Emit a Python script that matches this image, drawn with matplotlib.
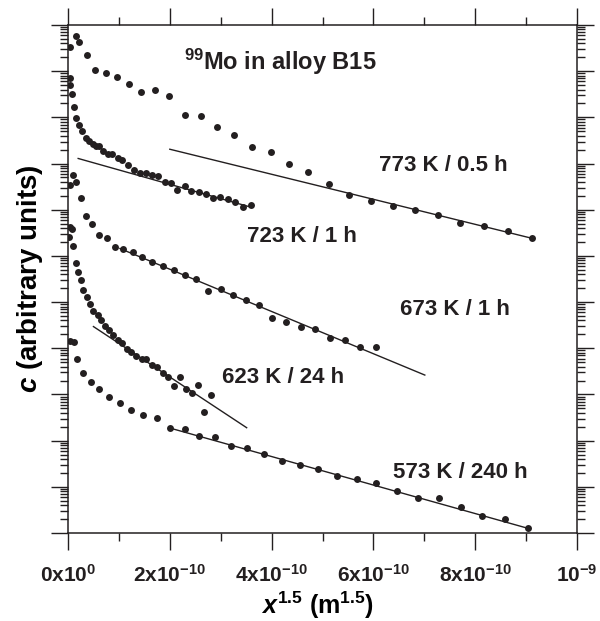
"""99Mo diffusion profiles in alloy B15"""

import matplotlib
matplotlib.use('Agg')
import matplotlib.pyplot as plt
import numpy as np
from matplotlib.ticker import FixedLocator, FixedFormatter, LogLocator, NullFormatter

INK = '#231f20'

# x^1.5 in units of 1e-10 m^1.5, c as log10 of arbitrary units
x_773 = [0.04, 0.15, 0.22, 0.37, 0.54, 0.74, 0.96, 1.19, 1.44, 1.71, 1.99, 2.29, 2.61,
         2.93, 3.26, 3.61, 3.98, 4.35, 4.72, 5.13, 5.53, 5.95, 6.38, 6.81, 7.26, 7.71,
         8.17, 8.64, 9.12]
lg_773 = [10.52, 10.77, 10.64, 10.34, 10.03, 9.96, 9.87, 9.73, 9.56, 9.60, 9.46, 9.05, 9.02,
          8.79, 8.61, 8.35, 8.24, 7.99, 7.82, 7.56, 7.31, 7.19, 7.09, 6.99, 6.89, 6.71,
          6.65, 6.54, 6.38]
fit_x_773 = [2.00, 9.12]
fit_lg_773 = [8.31, 6.38]

x_723 = [0.04, 0.03, 0.07, 0.12, 0.16, 0.22, 0.28, 0.35, 0.42, 0.49, 0.55, 0.60, 0.69,
         0.78, 0.87, 0.98, 1.07, 1.18, 1.30, 1.41, 1.53, 1.65, 1.76, 1.90, 2.02, 2.15,
         2.29, 2.42, 2.57, 2.71, 2.84, 2.99, 3.14, 3.29, 3.44, 3.60]
lg_723 = [9.86, 9.70, 9.51, 9.22, 8.99, 8.83, 8.70, 8.55, 8.49, 8.42, 8.38, 8.38, 8.27,
          8.20, 8.21, 8.13, 8.07, 7.97, 7.87, 7.79, 7.80, 7.75, 7.72, 7.61, 7.57, 7.43,
          7.52, 7.41, 7.38, 7.35, 7.25, 7.28, 7.23, 7.17, 7.05, 7.10]
fit_x_723 = [0.20, 3.58]
fit_lg_723 = [8.11, 7.06]

x_673 = [0.10, 0.15, 0.03, 0.25, 0.35, 0.48, 0.61, 0.77, 0.92, 1.09, 1.27, 1.46, 1.66,
         1.87, 2.08, 2.30, 2.51, 2.75, 3.00, 3.24, 3.49, 3.75, 4.01, 4.29, 4.57, 4.85,
         5.15, 5.44, 5.74, 6.05]
lg_673 = [7.75, 7.59, 7.54, 7.26, 6.87, 6.69, 6.46, 6.39, 6.20, 6.16, 6.08, 5.98, 5.87,
          5.78, 5.69, 5.59, 5.49, 5.25, 5.29, 5.15, 5.05, 4.94, 4.66, 4.56, 4.45, 4.41,
          4.22, 4.17, 4.03, 4.03]
fit_x_673 = [1.02, 7.01]
fit_lg_673 = [6.16, 3.42]

x_623 = [0.04, 0.07, 0.01, 0.10, 0.15, 0.20, 0.25, 0.30, 0.37, 0.43, 0.50, 0.58, 0.65,
         0.73, 0.81, 0.89, 0.98, 1.07, 1.15, 1.24, 1.34, 1.45, 1.54, 1.65, 1.75, 1.87,
         1.97, 2.08, 2.20, 2.31, 2.43, 2.55, 2.67, 2.80]
lg_623 = [6.63, 6.58, 6.40, 6.22, 5.84, 5.65, 5.48, 5.26, 5.10, 4.95, 4.81, 4.71, 4.61,
          4.49, 4.40, 4.29, 4.18, 4.11, 3.99, 3.91, 3.83, 3.77, 3.77, 3.64, 3.59, 3.47,
          3.38, 3.18, 3.38, 3.11, 3.04, 3.21, 2.61, 2.99]
fit_x_623 = [0.50, 3.51]
fit_lg_623 = [4.47, 2.28]

x_573 = [0.04, 0.12, 0.17, 0.29, 0.45, 0.61, 0.81, 1.02, 1.24, 1.48, 1.74, 2.01, 2.29,
         2.58, 2.89, 3.20, 3.52, 3.85, 4.20, 4.56, 4.92, 5.29, 5.68, 6.06, 6.47, 6.87,
         7.29, 7.72, 8.14, 8.59, 9.04]
lg_573 = [4.16, 4.14, 3.77, 3.47, 3.27, 3.11, 2.94, 2.81, 2.66, 2.56, 2.48, 2.27, 2.26,
          2.11, 2.07, 1.89, 1.83, 1.70, 1.56, 1.48, 1.38, 1.24, 1.17, 1.09, 0.92, 0.75,
          0.75, 0.57, 0.36, 0.31, 0.10]
fit_x_573 = [2.01, 9.04]
fit_lg_573 = [2.27, 0.10]

labels = ['773 K / 0.5 h', '723 K / 1 h', '673 K / 1 h', '623 K / 24 h', '573 K / 240 h']
label_pos = [(0.737, 0.724), (0.459, 0.583), (0.760, 0.439), (0.423, 0.307), (0.770, 0.120)]

xtick_vals = [0, 2, 4, 6, 8, 10]
xtick_labels = ['0x10$^0$', '2x10$^{-10}$', '4x10$^{-10}$', '6x10$^{-10}$',
                '8x10$^{-10}$', '10$^{-9}$']

plt.rcParams['font.family'] = ['Liberation Sans', 'DejaVu Sans']
plt.rcParams['font.weight'] = 'bold'
plt.rcParams['mathtext.fontset'] = 'custom'
plt.rcParams['mathtext.default'] = 'regular'
plt.rcParams['mathtext.it'] = 'Liberation Sans:bold:italic'
plt.rcParams['mathtext.rm'] = 'Liberation Sans:bold'
plt.rcParams['text.color'] = INK

fig = plt.figure(figsize=(6.0, 6.21), dpi=100)
ax = fig.add_axes([68 / 600, 88 / 621, 509 / 600, 508 / 621])

series = [
    (x_773, lg_773, fit_x_773, fit_lg_773),
    (x_723, lg_723, fit_x_723, fit_lg_723),
    (x_673, lg_673, fit_x_673, fit_lg_673),
    (x_623, lg_623, fit_x_623, fit_lg_623),
    (x_573, lg_573, fit_x_573, fit_lg_573),
]
for xs, lgs, fx, flg in series:
    ax.plot(np.array(fx) * 1e-10, 10 ** np.array(flg), color=INK, linewidth=1.0)
    ax.plot(np.array(xs) * 1e-10, 10 ** np.array(lgs), linestyle=' ', marker='o',
            markersize=5.0, color=INK, markeredgewidth=0)

ax.set_yscale('log')
ax.set_ylim(1e0, 1e11)
ax.set_xlim(0, 1e-9)

ax.yaxis.set_major_locator(LogLocator(base=10, numticks=100))
ax.yaxis.set_minor_locator(LogLocator(base=10, subs=np.arange(2, 10), numticks=100))
ax.yaxis.set_major_formatter(NullFormatter())
ax.yaxis.set_minor_formatter(NullFormatter())

ax.xaxis.set_major_locator(FixedLocator([v * 1e-10 for v in xtick_vals]))
ax.xaxis.set_major_formatter(FixedFormatter(xtick_labels))
ax.xaxis.set_minor_locator(FixedLocator([v * 1e-10 for v in [1, 3, 5, 7, 9]]))

for sp in ax.spines.values():
    sp.set_linewidth(1.1)
    sp.set_color(INK)
ax.tick_params(which='both', direction='out', top=True, right=True, width=1.0, color=INK)
ax.tick_params(which='major', length=12.5)
ax.tick_params(which='minor', length=6)
ax.tick_params(axis='x', which='major', labelsize=15, pad=10, labelcolor=INK)

ax.set_xlabel('$\\mathit{x}^{1.5}$ (m$^{1.5}$)', fontsize=18, fontweight='bold', va='center')
ax.xaxis.set_label_coords(0.49, -0.142)
ax.set_ylabel('$\\mathit{c}$ (arbitrary units)', fontsize=20, fontweight='bold', va='center')
ax.yaxis.set_label_coords(-0.075, 0.5)

ax.text(0.418, 0.927, '$^{99}$Mo in alloy B15', transform=ax.transAxes, fontsize=17,
        fontweight='bold', ha='center', va='center')
for txt, (tx, ty) in zip(labels, label_pos):
    ax.text(tx, ty, txt, transform=ax.transAxes, fontsize=16, fontweight='bold',
            ha='center', va='center')

fig.savefig('out.png', dpi=100)
